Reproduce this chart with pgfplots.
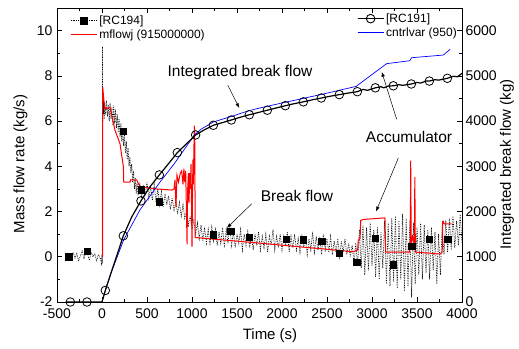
\documentclass[border=0pt]{standalone}
\usepackage{pgfplots}
\pgfplotsset{compat=1.18}
\usepackage{fontspec}
\setmainfont{Liberation Sans}
\usetikzlibrary{arrows.meta}
\begin{document}
\begin{tikzpicture}
\useasboundingbox (-57pt,-46pt) rectangle (462pt,302pt);
\pgfplotsset{
  base/.style={scale only axis, width=405pt, height=294pt, xmin=-500, xmax=4000,
    tick align=inside, major tick length=5pt, minor tick length=3pt,
    tick style={black, line width=0.6pt},
    /pgf/number format/assume math mode=true,
    /pgf/number format/1000 sep={},
    scaled ticks=false,
    ticklabel style={font=\fontsize{14}{14}\selectfont},
    label style={font=\fontsize{15}{15}\selectfont},
    axis line style={line width=0.8pt},
    legend cell align=left,
    legend image code/.code={\draw[mark repeat=2,mark phase=2,##1] plot coordinates {(0pt,0pt) (13pt,0pt) (26pt,0pt)};},
  }
}
\begin{axis}[base, ymin=-2, ymax=11, ytick={-2,0,...,10},
  xtick={-500,0,...,4000}, minor x tick num=1, minor y tick num=1,
  xtick pos=both, ytick pos=left,
  xticklabel style={yshift=-3pt},
  yticklabel style={xshift=-1pt},
  xlabel={Time (s)}, ylabel={Mass flow rate (kg/s)},
  xlabel style={at={(axis description cs:0.526,-0.115)}, anchor=center},
  ylabel style={at={(axis description cs:-0.09,0.47)}, anchor=center},
  legend style={at={(axis description cs:0.03,0.985)}, anchor=north west, draw=none, fill=none,
    font=\fontsize{12}{12}\selectfont, row sep=0pt, inner sep=1pt},
]
\addlegendimage{black, densely dotted, line width=0.8pt, mark=square*, mark size=3.2pt, mark options={solid}}
\addlegendentry{[RC194]}
\addplot[black, densely dotted, line width=0.7pt, forget plot] coordinates {
(-400,0.1)(-380,-0.15)(-360,0.05)(-340,-0.1)(-320,0.2)(-300,-0.05)(-280,0.15)(-260,-0.2)(-240,0.05)(-220,0.25)
(-200,-0.1)(-180,0.3)(-160,0.1)(-140,-0.15)(-120,0.2)(-100,0.0)(-80,0.15)(-60,-0.2)(-40,0.1)(-20,-0.05)
(-5,-0.3)(0,0.1)(3,-0.3)(5,9.3)(8,6.0)(12,7.2)(16,6.3)(20,6.9)(25,6.1)(30,6.8)(40,6.3)(50,6.9)(60,6.2)
(70,6.7)(80,6.0)(90,6.8)(100,6.1)(110,6.6)(120,5.8)(130,6.7)(140,5.9)(150,6.5)(160,5.7)(170,6.3)(180,5.5)
(190,6.1)(200,5.3)(210,5.9)(220,5.1)(230,5.6)(240,4.9)(250,5.4)(260,4.6)(270,5.1)(280,4.3)(290,4.8)
(300,4.0)(310,4.4)(320,3.7)(330,4.1)(340,3.3)(350,3.8)(360,3.0)(370,3.5)(380,2.8)(390,3.3)(400,2.7)
(420,3.2)(440,2.6)(460,3.1)(480,2.7)(500,3.3)(520,2.6)(540,3.1)(560,2.5)(580,3.2)(600,2.4)(620,3.0)
(640,2.3)(660,2.9)(680,2.2)(700,2.8)(720,2.3)(740,2.7)(760,2.1)(780,2.6)(800,2.0)(820,2.5)(840,1.9)
(860,2.4)(880,1.8)(900,2.3)(920,1.7)(940,2.0)(960,1.4)(980,1.8)(1000,1.2)(1020,1.6)(1040,1.0)(1060,1.5)
(1080,0.8)(1100,1.4)(1120,0.7)(1140,1.3)(1160,0.6)(1180,1.2)(1200,0.5)(1220,1.3)(1240,0.7)(1260,1.2)
(1280,0.5)(1300,1.1)(1320,0.6)(1340,1.3)(1360,0.4)(1380,1.2)(1400,0.6)(1420,1.4)(1440,0.5)(1460,1.1)
(1480,0.4)(1500,1.0)(1520,0.6)(1540,1.2)(1560,0.3)(1580,1.0)(1600,0.5)(1620,1.1)(1640,0.4)(1660,0.9)
(1680,0.3)(1700,1.0)(1720,0.5)(1740,1.1)(1760,0.3)(1780,0.9)(1800,0.4)(1820,1.0)(1840,0.2)(1860,0.9)
(1880,0.5)(1900,1.2)(1920,0.3)(1940,0.9)(1960,0.4)(1980,1.0)(2000,0.3)(2020,0.9)(2040,0.5)(2060,1.1)
(2080,0.2)(2100,0.9)(2120,0.4)(2140,1.0)(2160,0.3)(2180,0.8)(2200,0.2)(2220,1.0)(2240,0.4)(2260,0.9)
(2280,0.1)(2300,0.8)(2320,0.3)(2340,1.1)(2360,0.2)(2380,0.9)(2400,0.3)(2420,0.8)(2440,0.1)(2460,1.0)
(2480,0.3)(2500,0.8)(2520,0.2)(2540,0.9)(2560,0.1)(2580,0.7)(2600,0.2)(2620,0.8)(2640,0.0)(2660,0.7)
(2680,0.2)(2700,0.8)(2720,0.1)(2740,0.6)(2760,0.0)(2780,0.5)(2800,-0.3)(2820,0.6)(2840,-0.4)(2860,1.2)
(2880,-0.5)(2900,1.4)(2920,-0.8)(2940,1.3)(2960,-0.6)(2980,1.5)(3000,-0.4)(3020,1.2)(3040,-0.9)(3060,1.3)
(3080,-1.0)(3100,1.1)(3120,-0.5)(3140,1.6)(3160,-1.2)(3180,1.5)(3200,-1.3)(3220,1.7)(3240,-1.1)(3260,1.8)
(3280,-1.4)(3300,1.6)(3320,-1.0)(3340,1.9)(3360,-1.5)(3380,1.7)(3400,-1.3)(3420,1.6)(3440,-1.8)(3460,1.5)
(3480,-1.2)(3500,1.3)(3520,-0.8)(3540,1.5)(3560,-1.0)(3580,1.4)(3600,-0.7)(3620,1.2)(3640,-1.0)(3660,1.3)
(3680,-0.6)(3700,1.1)(3720,-1.2)(3740,1.0)(3760,-0.8)(3780,1.4)(3800,0.1)(3820,1.6)(3840,0.2)(3860,1.7)
(3880,0.3)(3900,1.8)(3920,0.4)(3940,1.6)(3960,0.5)(3980,1.9)(4000,0.6)
};
\addplot[only marks, mark=square*, mark size=3.2pt, black, forget plot] coordinates {
(-370,0.0)(-165,0.25)(233,5.55)(433,2.96)(633,2.43)(1233,0.97)(1430,1.12)(1637,0.87)(2044,0.78)
(2237,0.75)(2441,0.68)(2633,0.17)(2830,-0.25)(3033,0.82)(3237,-0.35)(3441,0.46)(3637,0.79)(3841,0.79)
};
\addplot[red, line width=1pt] coordinates {
(0,0)(8,0)(8,7.5)(30,6.55)(89,6.6)(144,5.6)(200,5.0)(237,4.0)(242,3.3)(311,3.3)(318,3.4)(385,3.4)
(422,3.1)(600,3.0)(780,2.95)(800,3.0)(811,3.4)(822,2.2)(833,3.6)(850,3.3)(870,3.7)(885,3.8)(900,3.2)
(910,3.9)(920,3.3)(930,3.8)(945,0.55)(952,3.0)(960,3.7)(967,2.4)(975,3.7)(983,3.0)(989,4.1)(1000,0.45)
(1005,2.4)(1010,4.3)(1015,3.2)(1020,4.5)(1026,5.8)(1030,5.5)(1036,0.85)(1040,0.85)(1760,0.6)(2640,0.28)
(2790,0.22)(2840,0.3)(2848,0.75)(2868,0.8)(2874,1.6)(2900,1.65)(3144,1.72)(3152,0.2)(3415,0.2)(3425,0.6)
(3430,4.25)(3436,0.6)(3450,0.9)(3470,0.5)(3476,3.52)(3482,0.2)(3500,0.2)(3756,0.12)(3780,0.2)(3785,1.56)
(3795,1.56)(3800,1.46)(3885,1.46)
};
\addlegendentry{mflowj (915000000)}
\node[font=\fontsize{15.5}{15.5}\selectfont] at (axis cs:1533,8.17) {Integrated break flow};
\node[font=\fontsize{15.5}{15.5}\selectfont] at (axis cs:3411,5.30) {Accumulator};
\node[font=\fontsize{15.5}{15.5}\selectfont] at (axis cs:2167,2.69) {Break flow};
\draw[-{Latex[length=5pt,width=3.5pt]}, line width=0.5pt] (axis cs:1397,7.59) -- (axis cs:1526,6.57);
\draw[-{Latex[length=5pt,width=3.5pt]}, line width=0.5pt] (axis cs:3274,6.08) -- (axis cs:3108,8.18);
\draw[-{Latex[length=5pt,width=3.5pt]}, line width=0.5pt] (axis cs:3292,4.36) -- (axis cs:3044,2.0);
\draw[-{Latex[length=5pt,width=3.5pt]}, line width=0.5pt] (axis cs:1663,2.34) -- (axis cs:1386,1.27);
\end{axis}
\begin{axis}[base, ymin=0, ymax=6500, ytick={0,1000,...,6000}, minor y tick num=1,
  axis x line=none, axis y line*=right,
  ylabel={Integrated break flow (kg)},
  ylabel style={at={(axis description cs:1.111,0.468)}, anchor=center, rotate=0},
  legend style={at={(axis description cs:0.995,0.992)}, anchor=north east, draw=none, fill=none,
    font=\fontsize{12}{12}\selectfont, row sep=0pt, inner sep=1pt},
]
\addlegendimage{black, line width=0.9pt, mark=o, mark size=4.3pt, mark options={fill=white}}
\addlegendentry{[RC191]}
\addlegendimage{blue, line width=0.7pt}
\addlegendentry{cntrlvar (950)}
\addplot[blue, line width=0.7pt, forget plot] coordinates {
(0,0)(37,256)(100,640)(241,1375)(422,2037)(644,2650)(800,3050)(1030,3700)(1100,3820)(1237,3980)
(1433,4100)(1633,4230)(1756,4290)(2000,4400)(2440,4590)(2830,4770)(2845,4800)(3163,5270)(3403,5330)
(3420,5335)(3440,5400)(3496,5410)(3793,5460)(3867,5585)
};
\addplot[black, line width=1.2pt, forget plot] coordinates {
(-400,0)(0,0)(37,256)(100,640)(170,1060)(237,1463)(330,1880)(433,2236)(530,2540)(637,2810)(740,3060)
(837,3303)(940,3500)(1040,3693)(1140,3810)(1237,3907)(1337,3965)(1437,4024)(1537,4085)(1637,4140)
(1737,4190)(1837,4240)(1937,4290)(2037,4340)(2137,4385)(2237,4425)(2337,4470)(2437,4510)(2537,4550)
(2637,4585)(2737,4620)(2837,4650)(2900,4700)(2950,4680)(3037,4735)(3100,4760)(3130,4735)(3180,4775)
(3237,4780)(3300,4805)(3340,4790)(3437,4820)(3500,4855)(3540,4840)(3600,4885)(3637,4885)(3700,4915)
(3740,4905)(3837,4945)(3900,4990)(3950,4980)(4000,5055)
};
\addplot[only marks, mark=o, mark size=4.3pt, black, line width=0.8pt, mark options={fill=white}, forget plot] coordinates {
(-352,0)(-167,0)(37,256)(237,1463)(433,2236)(637,2810)(837,3303)(1040,3693)(1237,3907)(1437,4024)
(1637,4140)(1837,4240)(2037,4340)(2237,4425)(2437,4510)(2637,4585)(2837,4650)(3037,4735)(3237,4780)
(3437,4820)(3637,4885)(3837,4945)
};
\end{axis}
\end{tikzpicture}
\end{document}
